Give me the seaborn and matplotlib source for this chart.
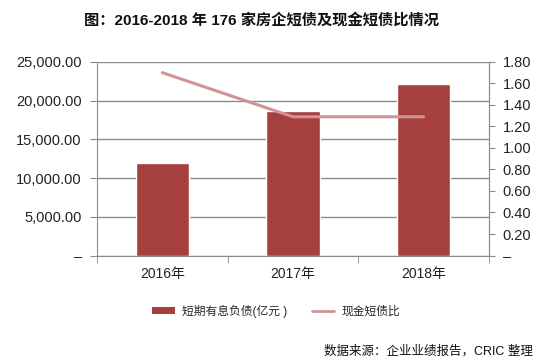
import numpy as np
import matplotlib.pyplot as plt
import seaborn as sns
from matplotlib.ticker import FuncFormatter, FixedLocator
from matplotlib.patches import Patch
from matplotlib.lines import Line2D

years = ["2016年", "2017年", "2018年"]
short_debt = [12000, 18700, 22200]
cash_ratio = [1.70, 1.29, 1.29]

bar_color = "#A6403F"
line_color = "#D09494"
grid_color = "#8C8C8C"

sns.set_style("white")
plt.rcParams['font.family'] = ['Liberation Sans', 'Noto Sans CJK SC', 'DejaVu Sans']

fig = plt.figure(figsize=(5.48, 3.64), dpi=100)
ax = fig.add_axes([0.177, 0.298, 0.715, 0.532])

pos = np.arange(len(years))
sns.barplot(x=pos, y=short_debt, color=bar_color, width=0.41, saturation=1,
            native_scale=True, ax=ax)
ax.set_xlim(-0.5, 2.5)
ax.set_ylim(0, 25000)
ax.set_yticks(np.arange(0, 25001, 5000))
ax.yaxis.set_major_formatter(FuncFormatter(lambda v, p: "–" if v == 0 else f"{v:,.2f}"))
ax.yaxis.grid(True, color=grid_color, linewidth=1)
ax.set_axisbelow(True)
ax.set_xticks(pos)
ax.set_xticklabels(years)
ax.xaxis.set_minor_locator(FixedLocator([-0.5, 0.5, 1.5, 2.5]))
ax.tick_params(axis="x", which="major", length=0, pad=8, labelsize=10, colors="#222222")
ax.tick_params(axis="x", which="minor", length=5, direction="out", color=grid_color, bottom=True)
ax.tick_params(axis="y", length=5, direction="out", color=grid_color, labelsize=10.5,
               colors="#222222", left=True, pad=6)
ax.set_xlabel("")
ax.set_ylabel("")
ax.spines["top"].set_visible(False)
for s in ["left", "bottom", "right"]:
    ax.spines[s].set_color(grid_color)

ax2 = ax.twinx()
sns.lineplot(x=pos, y=cash_ratio, color=line_color, linewidth=2.2, ax=ax2)
ax2.set_ylim(0, 1.8)
ax2.set_yticks(np.arange(0, 1.81, 0.2))
ax2.yaxis.set_major_formatter(FuncFormatter(lambda v, p: "–" if abs(v) < 1e-9 else f"{v:.2f}"))
ax2.tick_params(axis="y", length=4, direction="out", color=grid_color, labelsize=10.5,
                colors="#222222", right=True, pad=6)
ax2.spines["top"].set_visible(False)
ax2.spines["left"].set_visible(False)
ax2.spines["bottom"].set_visible(False)
ax2.spines["right"].set_color(grid_color)
ax2.set_xlim(-0.5, 2.5)
ax2.set_ylabel("")

fig.text(0.478, 0.945, "图：2016-2018 年 176 家房企短债及现金短债比情况",
         ha="center", va="center", fontsize=11, fontweight="bold", color="#111111")

handles = [Patch(facecolor=bar_color, edgecolor="none"),
           Line2D([0], [0], color=line_color, linewidth=2)]
fig.legend(handles, ["短期有息负债(亿元 )", "现金短债比"], loc="center",
           bbox_to_anchor=(0.504, 0.145), ncol=2, frameon=False, fontsize=8.5,
           handlelength=1.9, handleheight=0.5, columnspacing=2.1, handletextpad=0.6)

fig.text(0.972, 0.035, "数据来源：企业业绩报告，CRIC 整理", ha="right", va="center",
         fontsize=9, color="#111111")

fig.savefig("out.png", dpi=100, facecolor="white")
